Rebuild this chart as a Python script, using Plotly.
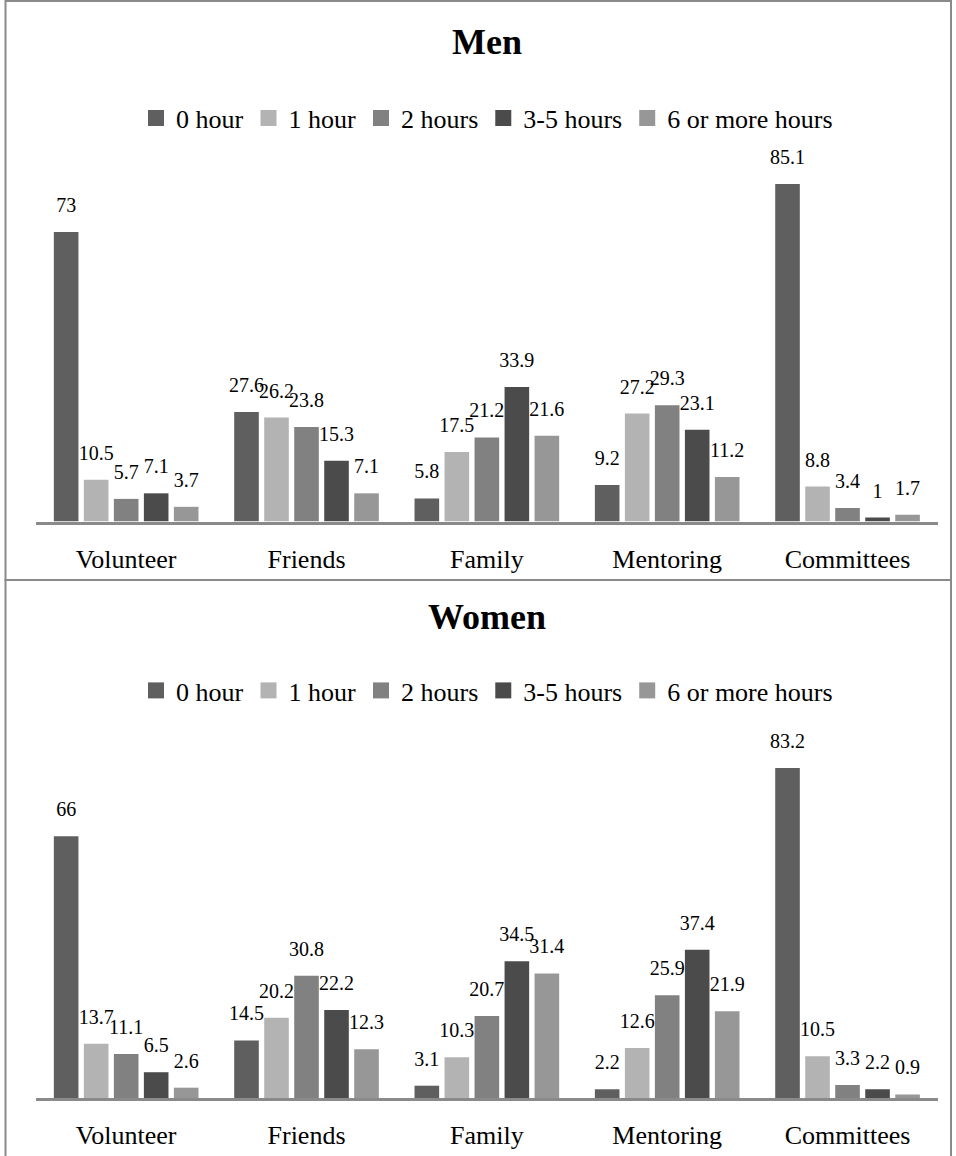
import plotly.graph_objects as go

# Survey: weekly hours spent on each activity, % of respondents
activities = ["Volunteer", "Friends", "Family", "Mentoring", "Committees"]
hour_bands = ["0 hour", "1 hour", "2 hours", "3-5 hours", "6 or more hours"]

men_0h = [73, 27.6, 5.8, 9.2, 85.1]
men_1h = [10.5, 26.2, 17.5, 27.2, 8.8]
men_2h = [5.7, 23.8, 21.2, 29.3, 3.4]
men_3_5h = [7.1, 15.3, 33.9, 23.1, 1]
men_6h = [3.7, 7.1, 21.6, 11.2, 1.7]

women_0h = [66, 14.5, 3.1, 2.2, 83.2]
women_1h = [13.7, 20.2, 10.3, 12.6, 10.5]
women_2h = [11.1, 30.8, 20.7, 25.9, 3.3]
women_3_5h = [6.5, 22.2, 34.5, 37.4, 2.2]
women_6h = [2.6, 12.3, 31.4, 21.9, 0.9]

band_colors = ["#5f5f5f", "#b3b3b3", "#818181", "#4b4b4b", "#979797"]

W, H = 956, 1156
SERIF = "Liberation Serif"
BORDER = "#8a8a8a"
BARGAP = 0.168


def px_x(v):
    return v / W


def px_y(v):
    return 1 - v / H


fig = go.Figure()

panels = [
    ("Men", [men_0h, men_1h, men_2h, men_3_5h, men_6h], "x", "y", "legend"),
    ("Women", [women_0h, women_1h, women_2h, women_3_5h, women_6h], "x2", "y2", "legend2"),
]

for title, series, xa, ya, leg in panels:
    # bars
    for band, vals, col in zip(hour_bands, series, band_colors):
        fig.add_trace(go.Bar(
            x=activities, y=vals, name=band, marker=dict(color=col, line=dict(width=0)),
            xaxis=xa, yaxis=ya, showlegend=False, hoverinfo="skip",
        ))
    # value labels, grouped the same way as the bars
    for band, vals in zip(hour_bands, series):
        fig.add_trace(go.Scatter(
            x=activities, y=vals, mode="markers+text", orientation="v",
            marker=dict(size=22.4, opacity=0), texttemplate="%{y}",
            textposition="top center", textfont=dict(family=SERIF, size=20, color="black"),
            xaxis=xa, yaxis=ya, showlegend=False, hoverinfo="skip", cliponaxis=False,
        ))
    # legend swatches
    for band, col in zip(hour_bands, band_colors):
        fig.add_trace(go.Scatter(
            x=[None], y=[None], mode="markers", name=band,
            marker=dict(symbol="square", size=16, color=col, line=dict(width=0)),
            xaxis="x3", yaxis="y3", legend=leg, showlegend=True, hoverinfo="skip",
        ))

x_dom = [px_x(36), px_x(937.7)]
axis_common = dict(
    type="category", range=[-0.5, 4.5], showline=True, linecolor=BORDER, linewidth=3,
    ticks="", showgrid=False, zeroline=False, fixedrange=True,
    tickfont=dict(family=SERIF, size=26, color="black"), ticklabelstandoff=12,
)
yaxis_common = dict(range=[0, 90], visible=False, showgrid=False, zeroline=False, fixedrange=True)

legend_common = dict(
    orientation="h", xanchor="center", yanchor="middle", x=px_x(487),
    font=dict(family=SERIF, size=26, color="black"), bgcolor="rgba(0,0,0,0)",
    itemclick=False, itemdoubleclick=False, tracegroupgap=0,
)

fig.update_layout(
    width=W, height=H, margin=dict(l=0, r=0, t=0, b=0),
    paper_bgcolor="white", plot_bgcolor="white",
    font=dict(family=SERIF),
    barmode="group", bargap=BARGAP, bargroupgap=0.18,
    scattermode="group", scattergap=BARGAP,
    xaxis=dict(domain=x_dom, anchor="y", **axis_common),
    yaxis=dict(domain=[px_y(521.5), px_y(521.5 - 357)], anchor="x", **yaxis_common),
    xaxis2=dict(domain=x_dom, anchor="y2", **axis_common),
    yaxis2=dict(domain=[px_y(1098), px_y(1098 - 357)], anchor="x2", **yaxis_common),
    xaxis3=dict(domain=[0, 0.01], anchor="y3", visible=False),
    yaxis3=dict(domain=[0, 0.01], anchor="x3", visible=False),
    legend=dict(y=px_y(118), **legend_common),
    legend2=dict(y=px_y(690.5), **legend_common),
    showlegend=True,
)

# panel titles
for text, yc in [("Men", 42), ("Women", 617)]:
    fig.add_annotation(
        text=f"<b>{text}</b>", xref="paper", yref="paper", x=px_x(487), y=px_y(yc),
        xanchor="center", yanchor="middle", showarrow=False,
        font=dict(family=SERIF, size=36, color="black"),
    )

# chart frames
for y0, y1 in [(1, 580), (580, 1160)]:
    fig.add_shape(
        type="rect", xref="paper", yref="paper",
        x0=px_x(5.5), x1=px_x(951), y0=px_y(y1), y1=px_y(y0),
        line=dict(color=BORDER, width=2), fillcolor="rgba(0,0,0,0)", layer="below",
    )

fig.write_html("out.html")
